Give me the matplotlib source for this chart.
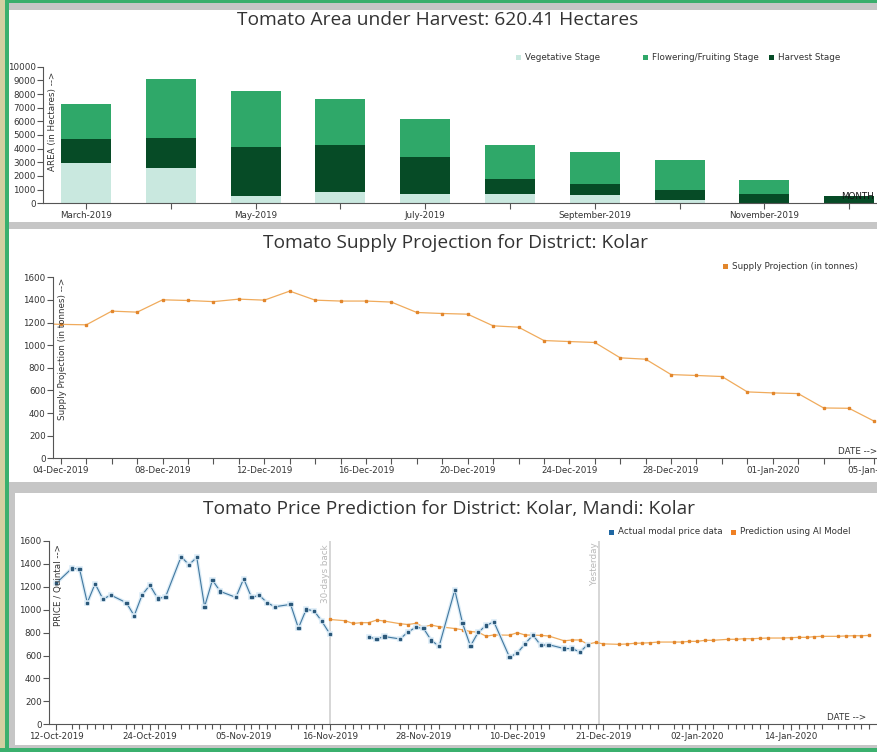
import numpy as np
import pandas as pd
import matplotlib
matplotlib.use("Agg")
import matplotlib.pyplot as plt
import matplotlib.dates as mdates
from matplotlib.patches import Rectangle
import matplotlib.patheffects as pe

# ---------------- DATA ----------------
months = ["March-2019", "April-2019", "May-2019", "June-2019", "July-2019",
          "August-2019", "September-2019", "October-2019", "November-2019", "December-2019"]
vegetative = [2950, 2560, 500, 850, 710, 680, 610, 240, 0, 0]
harvest = [1750, 2200, 3600, 3390, 2660, 1080, 800, 760, 680, 560]
flowering = [2570, 4310, 4140, 3420, 2830, 2480, 2350, 2170, 1030, 0]

supply_dates = ["03-Dec-2019", "04-Dec-2019", "05-Dec-2019", "06-Dec-2019", "07-Dec-2019",
                "08-Dec-2019", "09-Dec-2019", "10-Dec-2019", "11-Dec-2019", "12-Dec-2019",
                "13-Dec-2019", "14-Dec-2019", "15-Dec-2019", "16-Dec-2019", "17-Dec-2019",
                "18-Dec-2019", "19-Dec-2019", "20-Dec-2019", "21-Dec-2019", "22-Dec-2019",
                "23-Dec-2019", "24-Dec-2019", "25-Dec-2019", "26-Dec-2019", "27-Dec-2019",
                "28-Dec-2019", "29-Dec-2019", "30-Dec-2019", "31-Dec-2019", "01-Jan-2020",
                "02-Jan-2020", "03-Jan-2020", "04-Jan-2020", "05-Jan-2020"]
supply_vals = [1190, 1184, 1180, 1301, 1292, 1401, 1395, 1385, 1407, 1398,
               1478, 1398, 1390, 1390, 1381, 1289, 1280, 1274, 1171, 1159,
               1041, 1032, 1024, 888, 876, 740, 732, 723, 587, 578,
               572, 445, 442, 327]
supply_ticklabels = ["04-Dec-2019", "08-Dec-2019", "12-Dec-2019", "16-Dec-2019", "20-Dec-2019",
                     "24-Dec-2019", "28-Dec-2019", "01-Jan-2020", "05-Jan-2020"]

actual_dates = ["12-Oct-2019", "14-Oct-2019", "15-Oct-2019", "16-Oct-2019", "17-Oct-2019",
                "18-Oct-2019", "19-Oct-2019", "21-Oct-2019", "22-Oct-2019", "23-Oct-2019",
                "24-Oct-2019", "25-Oct-2019", "26-Oct-2019", "28-Oct-2019", "29-Oct-2019",
                "30-Oct-2019", "31-Oct-2019", "01-Nov-2019", "02-Nov-2019", "04-Nov-2019",
                "05-Nov-2019", "06-Nov-2019", "07-Nov-2019", "08-Nov-2019", "09-Nov-2019",
                "11-Nov-2019", "12-Nov-2019", "13-Nov-2019", "14-Nov-2019", "15-Nov-2019",
                "16-Nov-2019", "18-Nov-2019", "21-Nov-2019", "22-Nov-2019", "23-Nov-2019",
                "25-Nov-2019", "26-Nov-2019", "27-Nov-2019", "28-Nov-2019", "29-Nov-2019",
                "30-Nov-2019", "02-Dec-2019", "03-Dec-2019", "04-Dec-2019", "05-Dec-2019",
                "06-Dec-2019", "07-Dec-2019", "09-Dec-2019", "10-Dec-2019", "11-Dec-2019",
                "12-Dec-2019", "13-Dec-2019", "14-Dec-2019", "16-Dec-2019", "17-Dec-2019",
                "18-Dec-2019", "19-Dec-2019"]
actual_vals = [1230, 1360, 1358, 1061, 1227, 1093, 1128, 1061, 948, 1128,
               1215, 1099, 1111, 1463, 1393, 1457, 1026, 1259, 1160, 1108,
               1271, 1108, 1126, 1061, 1026, 1047, 840, 1003, 991, 899,
               791, np.nan, 762, 745, 766, 745, 805, 846, 838, 731,
               682, 1172, 881, 683, 804, 862, 895, 586, 622, 704,
               779, 689, 695, 661, 661, 631, 695]

pred_dates = ["16-Nov-2019", "18-Nov-2019", "19-Nov-2019", "20-Nov-2019", "21-Nov-2019",
              "22-Nov-2019", "23-Nov-2019", "25-Nov-2019", "26-Nov-2019", "27-Nov-2019",
              "28-Nov-2019", "29-Nov-2019", "30-Nov-2019", "02-Dec-2019", "03-Dec-2019",
              "04-Dec-2019", "05-Dec-2019", "06-Dec-2019", "07-Dec-2019", "09-Dec-2019",
              "10-Dec-2019", "11-Dec-2019", "12-Dec-2019", "13-Dec-2019", "14-Dec-2019",
              "16-Dec-2019", "17-Dec-2019", "18-Dec-2019", "19-Dec-2019", "20-Dec-2019",
              "21-Dec-2019", "23-Dec-2019", "24-Dec-2019", "25-Dec-2019", "26-Dec-2019",
              "27-Dec-2019", "28-Dec-2019", "30-Dec-2019", "31-Dec-2019", "01-Jan-2020",
              "02-Jan-2020", "03-Jan-2020", "04-Jan-2020", "06-Jan-2020", "07-Jan-2020",
              "08-Jan-2020", "09-Jan-2020", "10-Jan-2020", "11-Jan-2020", "13-Jan-2020",
              "14-Jan-2020", "15-Jan-2020", "16-Jan-2020", "17-Jan-2020", "18-Jan-2020",
              "20-Jan-2020", "21-Jan-2020", "22-Jan-2020", "23-Jan-2020", "24-Jan-2020"]
pred_vals = [915, 904, 880, 887, 887, 910, 901, 878, 871, 881,
             852, 866, 852, 836, 825, 810, 804, 769, 780, 778,
             800, 779, 779, 776, 771, 729, 736, 736, 699, 715,
             702, 698, 701, 707, 709, 712, 718, 718, 718, 724,
             724, 733, 733, 742, 742, 747, 747, 750, 753, 753,
             756, 759, 759, 765, 768, 768, 771, 773, 773, 776]
price_ticklabels = ["12-Oct-2019", "24-Oct-2019", "05-Nov-2019", "16-Nov-2019", "28-Nov-2019",
                    "10-Dec-2019", "21-Dec-2019", "02-Jan-2020", "14-Jan-2020"]
marker_30days = "16-Nov-2019 00:00"
marker_yesterday = "20-Dec-2019 10:00"

# ---------------- STYLE ----------------
W, H = 877, 752
VEG, FLOW, HARV = "#c9e8df", "#2fa869", "#064b26"
ORANGE_LINE, ORANGE_MK = "#f0ab5c", "#e2862c"
BLUE_LINE, BLUE_MK, BLUE_GLOW = "#41789f", "#2b587a", "#dcecf7"
TICK_COLOR, TEXT_COLOR = "#555555", "#333333"
TITLE_FONT = "Open Sans"

fig = plt.figure(figsize=(W / 100, H / 100), dpi=100)
fig.patch.set_facecolor("#c6c6c6")


def frect(x0, y0, x1, y1, color, z=0):
    fig.patches.append(Rectangle((x0 / W, 1 - y1 / H), (x1 - x0) / W, (y1 - y0) / H,
                                 transform=fig.transFigure, facecolor=color,
                                 edgecolor="none", zorder=z))


# frame / panels
frect(0, 0, W, 3, "#3aae6c")
frect(0, 0, 5, H, "#d3d0a2")
frect(5, 0, 9, H, "#3bb06e")
frect(0, 748, W, H, "#3bb06e")
frect(9, 9.5, W, 221.5, "white", 1)
frect(9, 229, W, 481.5, "white", 1)
frect(15, 493, W, 745, "white", 1)


def ax_rect(x0, ytop, x1, ybot):
    return [x0 / W, 1 - ybot / H, (x1 - x0) / W, (ybot - ytop) / H]


def style_axes(ax):
    for s in ["top", "right"]:
        ax.spines[s].set_visible(False)
    for s in ["left", "bottom"]:
        ax.spines[s].set_color(TICK_COLOR)
        ax.spines[s].set_linewidth(0.8)
    ax.set_facecolor("none")
    ax.tick_params(axis="both", which="both", colors=TICK_COLOR, labelcolor=TEXT_COLOR,
                   labelsize=6.3, length=4, width=0.8, pad=1.5)
    for lab in ax.get_xticklabels() + ax.get_yticklabels():
        lab.set_family("DejaVu Sans")


def legend_item(x, y, color, label):
    frect(x, y - 2.5, x + 5, y + 2.5, color, 3)
    fig.text((x + 9) / W, 1 - y / H, label, fontsize=6.3, color=TEXT_COLOR,
             va="center", ha="left", family="DejaVu Sans", zorder=3)


# ---------------- TOP: area ----------------
ax1 = fig.add_axes(ax_rect(43.3, 66.7, 877, 203.3), zorder=2)
idx = np.arange(len(months))
bw = 0.59
veg = np.array(vegetative)
har = np.array(harvest)
flo = np.array(flowering)
ax1.bar(idx, veg, bw, color=VEG, linewidth=0)
ax1.bar(idx, har, bw, bottom=veg, color=HARV, linewidth=0)
ax1.bar(idx, flo, bw, bottom=veg + har, color=FLOW, linewidth=0)
ax1.set_xlim(-0.5035, 9.328)
ax1.set_ylim(0, 10000)
ax1.set_yticks(np.arange(0, 10001, 1000))
ax1.set_xticks(idx)
ax1.set_xticklabels([m if i % 2 == 0 else "" for i, m in enumerate(months)])
style_axes(ax1)
ax1.text(0.011, 0.96, "AREA (in Hectares) -->", transform=ax1.transAxes, rotation=90,
         ha="center", va="top", fontsize=6.3, color=TEXT_COLOR, family="DejaVu Sans")
ax1.text(0.996, 0.05, "MONTH", transform=ax1.transAxes, ha="right", va="center",
         fontsize=6.3, color="#111111", family="DejaVu Sans", zorder=5)
fig.text(438 / W, 1 - 20 / H, "Tomato Area under Harvest: 620.41 Hectares",
         ha="center", va="center", fontsize=13.8, color="#333333", family=TITLE_FONT, zorder=3)
legend_item(516, 57.5, VEG, "Vegetative Stage")
legend_item(643, 57.5, FLOW, "Flowering/Fruiting Stage")
legend_item(769, 57.5, HARV, "Harvest Stage")

# ---------------- MIDDLE: supply ----------------
ax2 = fig.add_axes(ax_rect(53.3, 277.3, 877, 458.3), zorder=2)
sd = mdates.date2num(pd.to_datetime(supply_dates, format="%d-%b-%Y"))
ax2.plot(sd, supply_vals, color=ORANGE_LINE, lw=0.9, marker="s", ms=1.5,
         mfc=ORANGE_MK, mec=ORANGE_MK, clip_on=True)
d0 = mdates.date2num(pd.Timestamp("2019-12-04"))
ax2.set_xlim(d0 - 0.30, d0 + 32.1)
ax2.set_ylim(0, 1600)
ax2.set_yticks(np.arange(0, 1601, 200))
st = mdates.date2num(pd.to_datetime(supply_ticklabels, format="%d-%b-%Y"))
ax2.set_xticks(st)
ax2.set_xticklabels(supply_ticklabels)
ax2.set_xticks(sd[1:], minor=True)
style_axes(ax2)
ax2.tick_params(axis="x", which="minor", length=4)
ax2.text(0.011, 0.995, "Supply Projection (in tonnes) -->", transform=ax2.transAxes,
         rotation=90, ha="center", va="top", fontsize=6.3, color=TEXT_COLOR,
         family="DejaVu Sans")
ax2.text(1.0, 0.035, "DATE -->", transform=ax2.transAxes, ha="right", va="center",
         fontsize=6.3, color=TEXT_COLOR, family="DejaVu Sans")
fig.text(455 / W, 1 - 243 / H, "Tomato Supply Projection for District: Kolar",
         ha="center", va="center", fontsize=13.8, color="#333333", family=TITLE_FONT, zorder=3)
legend_item(723, 266, ORANGE_MK, "Supply Projection (in tonnes)")

# ---------------- BOTTOM: price ----------------
ax3 = fig.add_axes(ax_rect(49.3, 541, 877, 724.3), zorder=2)
ad = mdates.date2num(pd.to_datetime(actual_dates, format="%d-%b-%Y"))
pdn = mdates.date2num(pd.to_datetime(pred_dates, format="%d-%b-%Y"))
v30 = mdates.date2num(pd.Timestamp(marker_30days))
vy = mdates.date2num(pd.Timestamp(marker_yesterday))
ax3.axvline(v30, color="#d0d0d0", lw=1.2, zorder=1)
ax3.axvline(vy, color="#d0d0d0", lw=1.2, zorder=1)
ax3.plot(pdn, pred_vals, color=ORANGE_LINE, lw=0.9, marker="s", ms=1.5,
         mfc=ORANGE_MK, mec=ORANGE_MK, zorder=3)
ax3.plot(ad, actual_vals, color=BLUE_LINE, lw=0.8, marker="s", ms=1.6,
         mfc=BLUE_MK, mec=BLUE_MK, zorder=4,
         path_effects=[pe.Stroke(linewidth=2.6, foreground=BLUE_GLOW), pe.Normal()])
o0 = mdates.date2num(pd.Timestamp("2019-10-12"))
ax3.set_xlim(o0 - 0.86, o0 + 105.0)
ax3.set_ylim(0, 1600)
ax3.set_yticks(np.arange(0, 1601, 200))
pt = mdates.date2num(pd.to_datetime(price_ticklabels, format="%d-%b-%Y"))
ax3.set_xticks(pt)
ax3.set_xticklabels(price_ticklabels)
allticks = np.union1d(ad, pdn)
ax3.set_xticks(allticks, minor=True)
style_axes(ax3)
ax3.tick_params(axis="x", which="minor", length=3.5)
ax3.text(0.011, 0.985, "PRICE / Quintal -->", transform=ax3.transAxes, rotation=90,
         ha="center", va="top", fontsize=6.3, color=TEXT_COLOR, family="DejaVu Sans",
         zorder=6)
ax3.text(0.987, 0.035, "DATE -->", transform=ax3.transAxes, ha="right", va="center",
         fontsize=6.3, color=TEXT_COLOR, family="DejaVu Sans")
ax3.text(v30, 0.98, "30-days back", transform=ax3.get_xaxis_transform(), rotation=90,
         ha="right", va="top", fontsize=6.3, color="#b8b8b8", family="DejaVu Sans")
ax3.text(vy, 0.99, "Yesterday", transform=ax3.get_xaxis_transform(), rotation=90,
         ha="right", va="top", fontsize=6.3, color="#b8b8b8", family="DejaVu Sans")
fig.text(449 / W, 1 - 509 / H, "Tomato Price Prediction for District: Kolar, Mandi: Kolar",
         ha="center", va="center", fontsize=13.8, color="#333333", family=TITLE_FONT, zorder=3)
legend_item(609, 532, "#1f67a3", "Actual modal price data")
legend_item(731, 532, "#ef8024", "Prediction using AI Model")

fig.savefig("out.png", dpi=100, facecolor=fig.get_facecolor())
